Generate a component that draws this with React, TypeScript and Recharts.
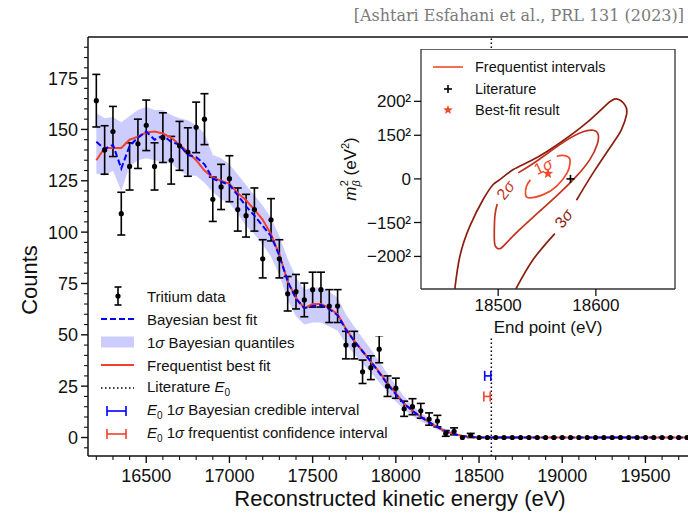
import {
  ComposedChart,
  XAxis,
  YAxis,
  Area,
  Line,
  Scatter,
  ErrorBar,
  ReferenceLine,
  Label,
} from 'recharts';

const FONT = '"Liberation Sans", Arial, Helvetica, sans-serif';
const INK = '#111111';
const FIT_RED = '#f2402b';
const FIT_BLUE = '#0000ff';
const BAND_FILL = '#0000ff';
const SIGMA_COLORS = ['#ef4a2b', '#c2331f', '#8a1f10'];

// 50 eV bins over the analysis window
const energies = Array.from({ length: 72 }, (_, i) => 16200 + 50 * i);

const counts = [
  164, 140, 149, 109, 132, 143, 152, 132, 146, 135,
  142, 139, 151, 155, 116, 122, 126, 111, 108, 111,
  87, 106, 87, 70, 71, 67, 72, 72, 64, 64,
  45, 45, 32, 34, 43, 25, 24, 14, 15, 13,
  9, 8, 2, 3, 0, 1,
  0, 0, 0, 0, 0, 0, 0, 0, 0, 0, 0, 0, 0,
  0, 0, 0, 0, 0, 0, 0, 0, 0, 0, 0, 0, 0,
];

const countErrors = [
  12.8, 11.8, 12.2, 10.4, 11.5, 12.0, 12.3, 11.5, 12.1, 11.6,
  11.9, 11.8, 12.3, 12.4, 10.8, 11.0, 11.2, 10.5, 10.4, 10.5,
  9.3, 10.3, 9.3, 8.4, 8.4, 8.2, 8.5, 8.5, 8.0, 8.0,
  6.7, 6.7, 5.7, 5.8, 6.6, 5.0, 4.9, 3.7, 3.9, 3.6,
  3.0, 2.8, 1.4, 1.7, 0, 1.0,
  0, 0, 0, 0, 0, 0, 0, 0, 0, 0, 0, 0, 0,
  0, 0, 0, 0, 0, 0, 0, 0, 0, 0, 0, 0, 0,
];

const frequentistFit = [
  135, 141, 141, 141, 145, 146.5, 148.5, 149, 148, 146,
  142.5, 139, 135, 130, 126.5, 125, 123.5, 119, 115.5, 111,
  106, 99, 89, 76, 68, 63, 65, 65, 63, 60,
  53, 47, 42, 37, 32, 26.5, 21.5, 16.5, 13, 10,
  7.5, 5, 3, 1.7, 0.7, 0.2,
  0, 0, 0, 0, 0, 0, 0, 0, 0, 0, 0, 0, 0,
  0, 0, 0, 0, 0, 0, 0, 0, 0, 0, 0, 0, 0,
];

const bayesianFit = [
  144, 140.5, 142.5, 131, 142, 146, 149, 145, 147, 144,
  142.5, 137.5, 136.5, 133, 126, 124.5, 123, 118, 112.5, 108,
  103, 98, 88.5, 76, 67.5, 63, 64, 64.5, 62.5, 59.5,
  52.5, 47, 42, 37, 31.5, 26, 21, 16.5, 13, 10,
  7.5, 5, 3, 1.7, 0.7, 0.2,
  0, 0, 0, 0, 0, 0, 0, 0, 0, 0, 0, 0, 0,
  0, 0, 0, 0, 0, 0, 0, 0, 0, 0, 0, 0, 0,
];

// 1 sigma Bayesian quantiles
const bandLow = [
  128.5, 127.5, 130, 120, 132, 135, 136, 135, 134, 133.5,
  130, 127.5, 127.5, 124, 119.5, 116, 114, 109, 103, 99,
  94, 88, 79, 67, 59, 55, 56, 56, 54, 52,
  45.5, 40.5, 36, 31.5, 27, 22, 17.5, 13.5, 10.5, 8,
  5.8, 3.8, 2.2, 1.1, 0.4, 0.1,
  0, 0, 0, 0, 0, 0, 0, 0, 0, 0, 0, 0, 0,
  0, 0, 0, 0, 0, 0, 0, 0, 0, 0, 0, 0, 0,
];

const bandHigh = [
  158, 155.5, 156, 153.5, 156.5, 159.5, 161, 159.5, 159.5, 157,
  155.5, 154.5, 152, 148, 137.5, 136, 133, 128, 123, 118,
  113, 107, 98, 87, 78, 72, 73, 73, 71, 68,
  60, 54, 48.5, 43, 37, 31, 25.5, 20, 15.5, 12,
  9.2, 6.3, 3.9, 2.3, 1.1, 0.4,
  0, 0, 0, 0, 0, 0, 0, 0, 0, 0, 0, 0, 0,
  0, 0, 0, 0, 0, 0, 0, 0, 0, 0, 0, 0, 0,
];

const literatureE0 = 18574;

// E0 intervals: centre, lower / upper offsets, drawn at a fixed count level
const bayesE0 = [{ energy: 18553, counts: 30, xerr: [19, 18] }];
const freqE0 = [{ energy: 18548, counts: 20, xerr: [19, 19] }];

// inset: (E0, m^2) contours
const sigma1 = [
  [18560, 11700], [18566, 12100], [18572.5, 11000], [18573.5, 8000],
  [18570.6, 3100], [18559.7, -3800], [18546.1, -8100], [18532.4, -9800],
  [18528, -8100], [18529, -3800], [18533, -500],
];
const sigma2 = [
  [18520.5, 3100], [18539.2, 9100], [18563.1, 17700], [18583.6, 23700],
  [18597.2, 25100], [18602.4, 22850], [18601.3, 17700], [18593.8, 9950],
  [18580.2, 1400], [18563.1, -7200], [18542.6, -16650], [18522.2, -26100],
  [18508.5, -33000], [18501.7, -36000], [18497, -34500], [18496, -29500],
  [18496.6, -19250], [18499, -13000],
];
const sigma3Upper = [
  [18455.6, -56800], [18460.8, -39900], [18471, -24400], [18484.6, -10650],
  [18494.9, -2900], [18501.7, -350], [18515.4, 4800], [18535.8, 9950],
  [18563.1, 18550], [18590.4, 28850], [18610.9, 38300], [18621.1, 41250],
  [18629.6, 38300], [18631.4, 33150], [18626.2, 25400], [18617.7, 18550],
  [18597.2, 3100], [18580.2, -11000],
];
const sigma3Lower = [
  [18558, -28200], [18535.8, -41600], [18518.1, -56800],
];
const sigmaLabels = [
  { e0: 18546, m2: 6500, text: '1', angle: -25, color: SIGMA_COLORS[0] },
  { e0: 18507.5, m2: -5800, text: '2', angle: -52, color: SIGMA_COLORS[1] },
  { e0: 18567, m2: -20400, text: '3', angle: -51, color: SIGMA_COLORS[2] },
];
const literaturePoint = [{ e0: 18574, m2: 0 }];
const bestFitPoint = [{ e0: 18551, m2: 2700 }];

const mTicks = [-40000, -22500, 0, 22500, 40000];
const mTickLabels = ['\u2212200\u00b2', '\u2212150\u00b2', '0', '150\u00b2', '200\u00b2'];

const rows = energies.map((energy, i) => ({
  energy,
  counts: counts[i],
  err: countErrors[i],
  freq: frequentistFit[i],
  bayes: bayesianFit[i],
  band: [bandLow[i], bandHigh[i]],
}));
const measured = rows.filter((r) => r.counts > 0);
const emptyBins = rows.filter((r) => r.counts === 0);

const toPoints = (pairs: number[][]) => pairs.map(([e0, m2]) => ({ e0, m2 }));

const xTicks = Array.from({ length: 37 }, (_, i) => 16200 + 100 * i);
const yTicks = Array.from({ length: 40 }, (_, i) => -5 + 5 * i);

function XTick({ x, y, payload }: any) {
  const major = payload.value % 500 === 0;
  return (
    <g>
      <line x1={x} x2={x} y1={y} y2={y + (major ? 7 : 4)} stroke={INK} strokeWidth={major ? 1.4 : 1.1} />
      {major && (
        <text x={x} y={y + 26} textAnchor="middle" fontSize={18} fontFamily={FONT} fill={INK}>
          {payload.value}
        </text>
      )}
    </g>
  );
}

function YTick({ x, y, payload }: any) {
  const major = payload.value >= 0 && payload.value % 25 === 0;
  return (
    <g>
      <line x1={x - (major ? 7 : 4)} x2={x} y1={y} y2={y} stroke={INK} strokeWidth={major ? 1.4 : 1.1} />
      {major && (
        <text x={x - 10} y={y} dy="0.36em" textAnchor="end" fontSize={18} fontFamily={FONT} fill={INK}>
          {payload.value}
        </text>
      )}
    </g>
  );
}

const dataDot = (p: any) => <circle cx={p.cx} cy={p.cy} r={2.6} fill="#000" />;
const noMarker = (p: any) => <circle cx={p.cx} cy={p.cy} r={0} />;

function StarMark({ cx, cy, r = 5.5, fill }: any) {
  const pts = [];
  for (let i = 0; i < 10; i++) {
    const rad = i % 2 === 0 ? r : r * 0.42;
    const a = -Math.PI / 2 + (i * Math.PI) / 5;
    pts.push(`${cx + rad * Math.cos(a)},${cy + rad * Math.sin(a)}`);
  }
  return <polygon points={pts.join(' ')} fill={fill} />;
}

const plusMark = (p: any) => (
  <g stroke="#000" strokeWidth={1.6}>
    <line x1={p.cx - 4} x2={p.cx + 4} y1={p.cy} y2={p.cy} />
    <line x1={p.cx} x2={p.cx} y1={p.cy - 4} y2={p.cy + 4} />
  </g>
);

const sigmaText = (p: any) => {
  const d = p.payload;
  return (
    <text
      x={p.cx}
      y={p.cy}
      transform={`rotate(${d.angle}, ${p.cx}, ${p.cy})`}
      textAnchor="middle"
      dy="0.35em"
      fontSize={16}
      fontFamily={FONT}
      fill={d.color}
    >
      {d.text}
      <tspan fontStyle="italic">{'\u03c3'}</tspan>
    </text>
  );
};

const E0 = () => (
  <>
    <i>E</i>
    <sub style={{ fontSize: 10 }}>0</sub>
  </>
);

function MainLegend() {
  const row = { display: 'flex', alignItems: 'center', height: 23 } as const;
  const icon = { width: 46, height: 20, flex: 'none' } as const;
  return (
    <div style={{ position: 'absolute', left: 101, top: 284.5, fontFamily: FONT, fontSize: 15, color: INK }}>
      <div style={row}>
        <svg style={icon}>
          <line x1={17} x2={17} y1={1} y2={19} stroke="#000" strokeWidth={1.6} />
          <line x1={13.5} x2={20.5} y1={1} y2={1} stroke="#000" strokeWidth={1.6} />
          <line x1={13.5} x2={20.5} y1={19} y2={19} stroke="#000" strokeWidth={1.6} />
          <circle cx={17} cy={10} r={2.6} fill="#000" />
        </svg>
        <span>Tritium data</span>
      </div>
      <div style={row}>
        <svg style={icon}>
          <line x1={0} x2={33} y1={10} y2={10} stroke={FIT_BLUE} strokeWidth={2} strokeDasharray="6 3" />
        </svg>
        <span>Bayesian best fit</span>
      </div>
      <div style={row}>
        <svg style={icon}>
          <rect x={0} y={4.5} width={33} height={11} fill={BAND_FILL} fillOpacity={0.2} />
        </svg>
        <span>
          1<i>{'\u03c3'}</i> Bayesian quantiles
        </span>
      </div>
      <div style={row}>
        <svg style={icon}>
          <line x1={0} x2={33} y1={10} y2={10} stroke={FIT_RED} strokeWidth={2} />
        </svg>
        <span>Frequentist best fit</span>
      </div>
      <div style={row}>
        <svg style={icon}>
          <line x1={0} x2={33} y1={10} y2={10} stroke="#000" strokeWidth={1.5} strokeDasharray="1.5 2.5" />
        </svg>
        <span>
          Literature <E0 />
        </span>
      </div>
      <div style={row}>
        <svg style={icon}>
          <g stroke={FIT_BLUE} strokeWidth={1.6}>
            <line x1={6} x2={25} y1={10} y2={10} />
            <line x1={6} x2={6} y1={5} y2={15} />
            <line x1={25} x2={25} y1={5} y2={15} />
          </g>
        </svg>
        <span>
          <E0 /> 1<i>{'\u03c3'}</i> Bayesian credible interval
        </span>
      </div>
      <div style={row}>
        <svg style={icon}>
          <g stroke={FIT_RED} strokeWidth={1.6}>
            <line x1={6} x2={25} y1={10} y2={10} />
            <line x1={6} x2={6} y1={5} y2={15} />
            <line x1={25} x2={25} y1={5} y2={15} />
          </g>
        </svg>
        <span>
          <E0 /> 1<i>{'\u03c3'}</i> frequentist confidence interval
        </span>
      </div>
    </div>
  );
}

function InsetLegend() {
  const row = { display: 'flex', alignItems: 'center', height: 21.5 } as const;
  const icon = { width: 42, height: 16, flex: 'none' } as const;
  return (
    <div style={{ position: 'absolute', left: 101, top: 7.5, fontFamily: FONT, fontSize: 14.5, color: INK }}>
      <div style={row}>
        <svg style={icon}>
          <line x1={0} x2={30} y1={8} y2={8} stroke={SIGMA_COLORS[0]} strokeWidth={1.6} />
        </svg>
        <span>Frequentist intervals</span>
      </div>
      <div style={row}>
        <svg style={icon}>{plusMark({ cx: 15, cy: 8 })}</svg>
        <span>Literature</span>
      </div>
      <div style={row}>
        <svg style={icon}>
          <StarMark cx={15} cy={8} r={5} fill={SIGMA_COLORS[0]} />
        </svg>
        <span>Best-fit result</span>
      </div>
    </div>
  );
}

const insetYTitle = () => (
  <text transform="translate(24, 120) rotate(-90)" textAnchor="middle" fontSize={17} fontFamily={FONT} fill={INK}>
    <tspan fontStyle="italic">m</tspan>
    <tspan fontStyle="italic" fontSize={11} dy={4}>{'\u03b2'}</tspan>
    <tspan fontSize={11} dx={-6} dy={-12}>2</tspan>
    <tspan dy={8}> (eV</tspan>
    <tspan fontSize={11} dy={-7}>2</tspan>
    <tspan dy={7}>)</tspan>
  </text>
);

const countsTitle = () => (
  <text transform="translate(37, 280) rotate(-90)" textAnchor="middle" fontSize={22} fontFamily={FONT} fill={INK}>
    Counts
  </text>
);

function EndpointInset() {
  const contour = (pts: number[][], color: string, key: string) => (
    <Line
      key={key}
      data={toPoints(pts)}
      dataKey="m2"
      type="natural"
      stroke={color}
      strokeWidth={1.7}
      dot={false}
      activeDot={false}
      isAnimationActive={false}
    />
  );
  return (
    <div style={{ position: 'absolute', left: 332, top: 49, width: 356, height: 287 }}>
      <div style={{ position: 'absolute', left: 30, top: 0, right: 0, bottom: 0, background: '#fff' }} />
      <div style={{ position: 'absolute', left: 0, top: 0 }}>
        <ComposedChart width={356} height={287} margin={{ top: 0, right: 13, bottom: 0, left: 0 }}>
          <XAxis
            dataKey="e0"
            type="number"
            domain={[18421, 18681]}
            ticks={[18500, 18600]}
            interval={0}
            allowDataOverflow
            height={47}
            tickSize={7}
            tickMargin={3}
            stroke="#333"
            tickLine={{ stroke: INK, strokeWidth: 1.3 }}
            axisLine={{ stroke: '#333', strokeWidth: 1.3 }}
            tick={{ fontSize: 17, fill: INK, fontFamily: FONT }}
          >
            <Label
              value="End point (eV)"
              position="insideBottom"
              offset={3}
              style={{ fontSize: 17, fill: INK, fontFamily: FONT }}
            />
          </XAxis>
          <YAxis
            type="number"
            domain={[-56800, 67000]}
            ticks={mTicks}
            interval={0}
            allowDataOverflow
            width={89}
            tickSize={7}
            tickMargin={3}
            tickFormatter={(v: number) => mTickLabels[mTicks.indexOf(v)]}
            tickLine={{ stroke: INK, strokeWidth: 1.3 }}
            axisLine={{ stroke: '#333', strokeWidth: 1.3 }}
            tick={{ fontSize: 17, fill: INK, fontFamily: FONT }}
          >
            <Label content={insetYTitle} />
          </YAxis>
          <ReferenceLine y={67000} stroke="#333" strokeWidth={1.3} />
          <ReferenceLine x={18681} stroke="#333" strokeWidth={1.3} />
          {contour(sigma3Upper, SIGMA_COLORS[2], 's3a')}
          {contour(sigma3Lower, SIGMA_COLORS[2], 's3b')}
          {contour(sigma2, SIGMA_COLORS[1], 's2')}
          {contour(sigma1, SIGMA_COLORS[0], 's1')}
          <Scatter data={sigmaLabels} dataKey="m2" shape={sigmaText} isAnimationActive={false} />
          <Scatter data={literaturePoint} dataKey="m2" shape={plusMark} isAnimationActive={false} />
          <Scatter
            data={bestFitPoint}
            dataKey="m2"
            shape={(p: any) => <StarMark cx={p.cx} cy={p.cy} r={5.5} fill={SIGMA_COLORS[0]} />}
            isAnimationActive={false}
          />
        </ComposedChart>
      </div>
      <InsetLegend />
    </div>
  );
}

export default function App() {
  return (
    <div
      style={{
        position: 'absolute',
        left: 0,
        top: 0,
        width: 688,
        height: 514,
        overflow: 'hidden',
        background: '#fff',
      }}
    >
      <ComposedChart width={712} height={514} data={rows} margin={{ top: 37, right: 0, bottom: 0, left: 0 }}>
        <XAxis
          dataKey="energy"
          type="number"
          domain={[16150, 19900]}
          ticks={xTicks}
          interval={0}
          allowDataOverflow
          height={58}
          tickSize={0}
          tickMargin={0}
          tickLine={false}
          tick={(p: any) => <XTick {...p} />}
          axisLine={{ stroke: INK, strokeWidth: 1.5 }}
        >
          <Label
            value="Reconstructed kinetic energy (eV)"
            position="insideBottom"
            offset={8}
            style={{ fontSize: 22, fill: INK, fontFamily: FONT }}
          />
        </XAxis>
        <YAxis
          type="number"
          domain={[-9, 195]}
          ticks={yTicks}
          interval={0}
          allowDataOverflow
          width={88}
          tickSize={0}
          tickMargin={0}
          tickLine={false}
          tick={(p: any) => <YTick {...p} />}
          axisLine={{ stroke: INK, strokeWidth: 1.5 }}
        >
          <Label content={countsTitle} />
        </YAxis>
        <ReferenceLine y={195} stroke={INK} strokeWidth={1.5} />
        <Area
          dataKey="band"
          type="linear"
          stroke="none"
          fill={BAND_FILL}
          fillOpacity={0.2}
          dot={false}
          activeDot={false}
          isAnimationActive={false}
        />
        <ReferenceLine x={literatureE0} stroke="#000" strokeWidth={1.5} strokeDasharray="1.5 2.5" />
        <Scatter data={measured} dataKey="counts" shape={dataDot} isAnimationActive={false}>
          <ErrorBar dataKey="err" direction="y" width={4} stroke="#000" strokeWidth={1.6} />
        </Scatter>
        <Scatter data={emptyBins} dataKey="counts" shape={dataDot} isAnimationActive={false} />
        <Line
          dataKey="freq"
          type="linear"
          stroke={FIT_RED}
          strokeWidth={2}
          dot={false}
          activeDot={false}
          isAnimationActive={false}
        />
        <Line
          dataKey="bayes"
          type="linear"
          stroke={FIT_BLUE}
          strokeWidth={2}
          strokeDasharray="6 3"
          dot={false}
          activeDot={false}
          isAnimationActive={false}
        />
        <Scatter data={bayesE0} dataKey="counts" shape={noMarker} isAnimationActive={false}>
          <ErrorBar dataKey="xerr" direction="x" width={5} stroke={FIT_BLUE} strokeWidth={1.6} />
        </Scatter>
        <Scatter data={freqE0} dataKey="counts" shape={noMarker} isAnimationActive={false}>
          <ErrorBar dataKey="xerr" direction="x" width={5} stroke={FIT_RED} strokeWidth={1.6} />
        </Scatter>
      </ComposedChart>
      <MainLegend />
      <EndpointInset />
      <svg style={{ position: 'absolute', left: 0, top: 0 }} width={688} height={32}>
        <text x={684} y={21} textAnchor="end" fontSize={16} fontFamily='"DejaVu Serif", serif' fill="#7a7a7a">
          [Ashtari Esfahani et al., PRL 131 (2023)]
        </text>
      </svg>
    </div>
  );
}
